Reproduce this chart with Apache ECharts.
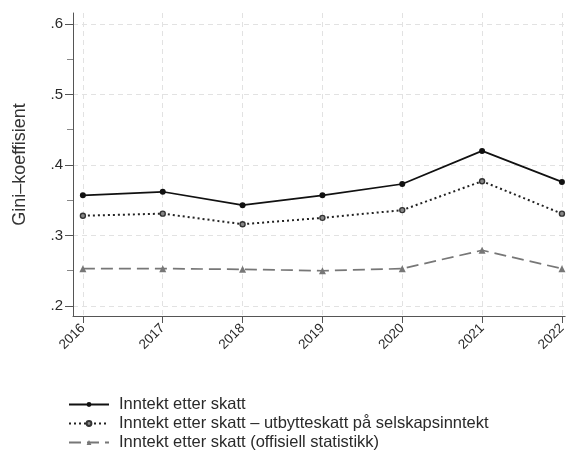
<!DOCTYPE html>
<html><head><meta charset="utf-8">
<script src="https://cdn.jsdelivr.net/npm/echarts@6/dist/echarts.min.js"></script>
<style>html,body{margin:0;padding:0;background:#fff}#c{width:569px;height:450px}</style>
</head><body><div id="c"></div>
<script>
const years = [2016, 2017, 2018, 2019, 2020, 2021, 2022];
const etterSkatt = [0.357, 0.362, 0.343, 0.357, 0.373, 0.420, 0.376];
const minusUtbytte = [0.328, 0.331, 0.316, 0.325, 0.336, 0.377, 0.331];
const offisiell = [0.253, 0.253, 0.252, 0.250, 0.253, 0.279, 0.253];
const yMajor = [0.2, 0.3, 0.4, 0.5, 0.6];
const yMinor = [0.25, 0.35, 0.45, 0.55];
const seriesNames = [
  'Inntekt etter skatt',
  'Inntekt etter skatt \u2013 utbytteskatt p\u00e5 selskapsinntekt',
  'Inntekt etter skatt (offisiell statistikk)'
];

const pairs = arr => years.map((y, i) => [y, arr[i]]);
const chart = echarts.init(document.getElementById('c'));
const font = 'Liberation Sans, Arial, sans-serif';
const gridLine = { show: true, lineStyle: { color: '#e2e2e2', type: [5, 4], width: 1 } };
chart.setOption({
  animation: false,
  textStyle: { fontFamily: font },
  grid: { left: 73, right: 0, top: 13, bottom: 134, containLabel: false },
  xAxis: {
    type: 'value', min: 2015.876, max: 2022.04,
    axisLine: { show: true, onZero: false, lineStyle: { color: '#555', width: 1 } },
    axisTick: { show: true, customValues: years, length: 7, lineStyle: { color: '#555' } },
    axisLabel: { customValues: years, rotate: 45, color: '#2a2a2a', fontSize: 13.5, margin: 10, fontFamily: font, formatter: v => String(v) },
    splitLine: gridLine
  },
  yAxis: [{
    type: 'value', min: 0.1858, max: 0.6156,
    name: 'Gini\u2013koeffisient', nameLocation: 'middle', nameGap: 44, nameRotate: 90,
    nameTextStyle: { color: '#333', fontSize: 18, fontFamily: font },
    axisLine: { show: true, onZero: false, lineStyle: { color: '#555', width: 1 } },
    axisTick: { show: true, customValues: yMajor, length: 8, lineStyle: { color: '#555' } },
    axisLabel: { customValues: yMajor, color: '#2a2a2a', fontSize: 15, margin: 10, fontFamily: font,
      formatter: v => v.toFixed(1).replace(/^0/, '') },
    splitLine: gridLine
  }, {
    type: 'value', min: 0.1858, max: 0.6156, position: 'left',
    axisLine: { show: false },
    axisTick: { show: true, customValues: yMinor, length: 6, lineStyle: { color: '#888' } },
    axisLabel: { show: false },
    splitLine: { show: false }
  }],
  legend: {
    orient: 'vertical', left: 63, top: 391, height: 59, itemGap: 2, itemWidth: 40, itemHeight: 6,
    textStyle: { color: '#2a2a2a', fontSize: 16.5, lineHeight: 16, fontFamily: font, padding: [0, 0, 0, 5] },
    data: seriesNames
  },
  series: [{
    name: seriesNames[0], type: 'line', data: pairs(etterSkatt),
    symbol: 'circle', symbolSize: 6,
    itemStyle: { color: '#111' },
    lineStyle: { color: '#111', width: 1.7, type: 'solid' }
  }, {
    name: seriesNames[1], type: 'line', data: pairs(minusUtbytte),
    symbol: 'circle', symbolSize: 5,
    itemStyle: { color: '#888', borderColor: '#333', borderWidth: 1.4 },
    lineStyle: { color: '#222', width: 2, type: [2, 3] }
  }, {
    name: seriesNames[2], type: 'line', data: pairs(offisiell),
    symbol: 'triangle', symbolSize: 7,
    itemStyle: { color: '#777' },
    lineStyle: { color: '#777', width: 1.7, type: [12, 6] }
  }]
});
</script></body></html>
